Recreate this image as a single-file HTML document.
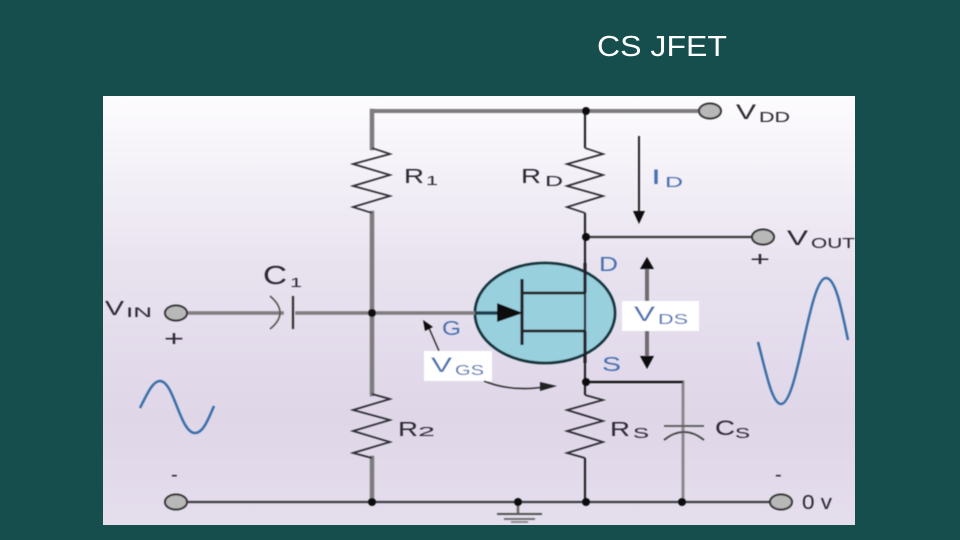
<!DOCTYPE html>
<html>
<head>
<meta charset="utf-8">
<style>
html,body{margin:0;padding:0;width:960px;height:540px;overflow:hidden;background:#164e4e}
svg{position:absolute;left:0;top:0}
text{font-family:"Liberation Sans",sans-serif}
</style>
</head>
<body>
<svg width="960" height="540" viewBox="0 0 960 540" xmlns="http://www.w3.org/2000/svg">
<defs>
<linearGradient id="bg" x1="0" y1="0" x2="0" y2="1">
<stop offset="0" stop-color="#fdfcfe"/>
<stop offset="0.4" stop-color="#e8e2ef"/>
<stop offset="0.75" stop-color="#dfd6e8"/>
<stop offset="1" stop-color="#e5deed"/>
</linearGradient>
<filter id="s" x="-5%" y="-5%" width="110%" height="110%"><feGaussianBlur stdDeviation="0.55"/></filter>
</defs>
<text x="597" y="56" font-size="29" fill="#ffffff" textLength="130" lengthAdjust="spacingAndGlyphs">CS JFET</text>
<rect x="103" y="96" width="752" height="429" fill="url(#bg)"/>
<g filter="url(#s)">
<!-- transistor -->
<ellipse cx="545" cy="313" rx="70" ry="50" fill="#99d0de" stroke="#12343c" stroke-width="2.8"/>
<!-- gray wires -->
<g fill="none" stroke="#7f7b80" stroke-linecap="square">
<path d="M372 111H700" stroke-width="4"/>
<path d="M372 111V148M372 213V313M372 313V394M372 458V502" stroke-width="4.5"/>
<path d="M188 313H282M297 313H475" stroke-width="3.5"/>
<path d="M683 382V502" stroke-width="3" stroke="#8d898e"/>
<path d="M647 268V301M647 331V358" stroke-width="4" stroke="#6f6c72"/>
</g>
<!-- dark wires -->
<g fill="none" stroke="#222226" stroke-width="2.2">
<path d="M585 111V148M585 213V382M585 382V395M585 458V502"/>
<path d="M585 237H752" stroke="#3a3a3e"/>
<path d="M586 382H683" stroke="#111"/>
<path d="M187 502H772" stroke="#3e3c42"/>
<path d="M475 313H505" stroke="#1c3c48" stroke-width="3.5"/>
<path d="M522 279V345" stroke-width="3.2"/>
<path d="M522 293H585M522 331H585" stroke-width="2.8"/>
<path d="M585 293V263M585 331V363" stroke-width="3.2"/>
</g>
<path d="M497 303L523 313L497 322Z" fill="#111"/>
<!-- resistors -->
<g fill="none" stroke="#2c2a30" stroke-width="1.7" stroke-linejoin="miter">
<path d="M372 148L390 154L353 164L390 175L353 186L390 196L353 207L372 213"/>
<path d="M372 394L390 399L353 410L390 420L353 431L390 442L353 453L372 458"/>
<path d="M585 148L603 154L567 164L603 175L567 186L603 196L567 207L585 213"/>
<path d="M585 395L603 400L567 410L603 421L567 431L603 442L567 453L585 458"/>
</g>
<!-- capacitors -->
<path d="M293 296V329" stroke="#333" stroke-width="2.2" fill="none"/>
<path d="M270 296Q290 313 270 329" stroke="#555" stroke-width="1.6" fill="none"/>
<path d="M664 426H704" stroke="#555" stroke-width="1.8" fill="none"/>
<path d="M664 440Q684 424 704 440" stroke="#444" stroke-width="1.8" fill="none"/>
<!-- ground -->
<path d="M518 502V514" stroke="#666" stroke-width="2.5"/>
<path d="M497 514H542" stroke="#555" stroke-width="2"/>
<path d="M504 519H535" stroke="#666" stroke-width="1.8"/>
<path d="M511 522H528" stroke="#777" stroke-width="1.6"/>
<!-- junctions -->
<g fill="#111">
<circle cx="586" cy="111" r="4"/>
<circle cx="586" cy="237" r="4"/>
<circle cx="586" cy="382" r="4"/>
<circle cx="586" cy="502" r="4"/>
<circle cx="372" cy="313" r="4"/>
<circle cx="372" cy="502" r="4"/>
<circle cx="518" cy="502" r="4"/>
<circle cx="682" cy="502" r="4"/>
</g>
<!-- terminals -->
<g fill="#b8b8b8" stroke="#333" stroke-width="2">
<ellipse cx="710" cy="111" rx="11" ry="7.5"/>
<ellipse cx="763" cy="237" rx="11" ry="7.5"/>
<ellipse cx="176" cy="313" rx="11" ry="7.5"/>
<ellipse cx="176" cy="502" rx="11" ry="7.5"/>
<ellipse cx="781" cy="502" rx="11" ry="7.5"/>
</g>
<!-- I_D arrow -->
<path d="M639 136V215" stroke="#222" stroke-width="2" fill="none"/>
<path d="M633 211H645L639 224Z" fill="#111"/>
<!-- V_DS arrows -->
<path d="M647 257L654 269H640Z" fill="#111"/>
<path d="M647 369L654 356H640Z" fill="#111"/>
<!-- label boxes -->
<rect x="622" y="301" width="77" height="30" fill="#ffffff"/>
<rect x="424" y="351" width="68" height="30" fill="#ffffff"/>
<!-- V_GS arrows -->
<path d="M439 351L429 328" stroke="#333" stroke-width="1.5" fill="none"/>
<path d="M425 331L423 320L433 327Z" fill="#111"/>
<path d="M484 381Q510 392 545 387" stroke="#333" stroke-width="1.5" fill="none"/>
<path d="M540 382L557 386L540 391Z" fill="#222"/>
<!-- sine waves -->
<path d="M140 408C148 392 153 381 160 381C174 381 180 433 195 433C203 433 208 420 214 406" fill="none" stroke="#3a6ea8" stroke-width="2.5"/>
<path d="M758 342C766 372 772 404 781 404C798 404 809 278 826 278C836 278 842 312 848 340" fill="none" stroke="#3a6ea8" stroke-width="2.5"/>
<!-- labels -->
<g fill="#2a2530">
<text x="404" y="183" font-size="20" textLength="20" lengthAdjust="spacingAndGlyphs">R</text>
<text x="426" y="185" font-size="13" textLength="12" lengthAdjust="spacingAndGlyphs">1</text>
<text x="398" y="436" font-size="20" textLength="20" lengthAdjust="spacingAndGlyphs">R</text>
<text x="418" y="436" font-size="13" textLength="17" lengthAdjust="spacingAndGlyphs">2</text>
<text x="521" y="183" font-size="20" textLength="20" lengthAdjust="spacingAndGlyphs">R</text>
<text x="545" y="186" font-size="15" textLength="18" lengthAdjust="spacingAndGlyphs">D</text>
<text x="610" y="436" font-size="20" textLength="20" lengthAdjust="spacingAndGlyphs">R</text>
<text x="633" y="438" font-size="15" textLength="16" lengthAdjust="spacingAndGlyphs">S</text>
<text x="263" y="284" font-size="26" textLength="24" lengthAdjust="spacingAndGlyphs">C</text>
<text x="290" y="287" font-size="13" textLength="12" lengthAdjust="spacingAndGlyphs">1</text>
<text x="715" y="435" font-size="21" textLength="20" lengthAdjust="spacingAndGlyphs">C</text>
<text x="735" y="438" font-size="15" textLength="15" lengthAdjust="spacingAndGlyphs">S</text>
<text x="736" y="119" font-size="21" textLength="20" lengthAdjust="spacingAndGlyphs">V</text>
<text x="759" y="122" font-size="15" textLength="31" lengthAdjust="spacingAndGlyphs">DD</text>
<text x="787" y="245" font-size="21" textLength="21" lengthAdjust="spacingAndGlyphs">V</text>
<text x="811" y="248" font-size="15" textLength="44" lengthAdjust="spacingAndGlyphs">OUT</text>
<text x="105" y="315" font-size="20" textLength="19" lengthAdjust="spacingAndGlyphs">V</text>
<text x="126" y="317" font-size="14" textLength="26" lengthAdjust="spacingAndGlyphs">IN</text>
<text x="802" y="509" font-size="20" textLength="30" lengthAdjust="spacingAndGlyphs">0 v</text>
<text x="164" y="346" font-size="22" textLength="20" lengthAdjust="spacingAndGlyphs">+</text>
<text x="750" y="266" font-size="20" textLength="20" lengthAdjust="spacingAndGlyphs">+</text>
<text x="171" y="481" font-size="20">-</text>
<text x="775" y="481" font-size="20">-</text>
</g>
<g fill="#4a6fb0">
<text x="651" y="184" font-size="21" textLength="10" lengthAdjust="spacingAndGlyphs">I</text>
<text x="665" y="187" font-size="15" textLength="18" lengthAdjust="spacingAndGlyphs">D</text>
<text x="599" y="271" font-size="20" textLength="19" lengthAdjust="spacingAndGlyphs">D</text>
<text x="602" y="371" font-size="20" textLength="19" lengthAdjust="spacingAndGlyphs">S</text>
<text x="442" y="335" font-size="20" textLength="19" lengthAdjust="spacingAndGlyphs">G</text>
<text x="431" y="372" font-size="21" textLength="21" lengthAdjust="spacingAndGlyphs">V</text>
<text x="455" y="375" font-size="15" textLength="29" lengthAdjust="spacingAndGlyphs">GS</text>
<text x="634" y="321" font-size="21" textLength="21" lengthAdjust="spacingAndGlyphs">V</text>
<text x="658" y="324" font-size="15" textLength="30" lengthAdjust="spacingAndGlyphs">DS</text>
</g>
</g>
</svg>
</body>
</html>
